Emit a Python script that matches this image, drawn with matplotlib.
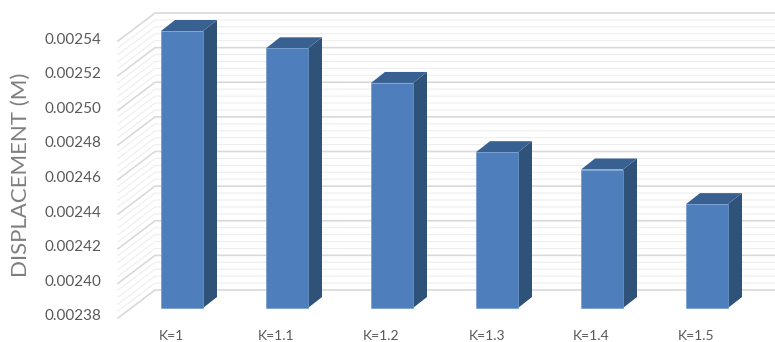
#!/usr/bin/env python3
import numpy as np
import matplotlib
matplotlib.use("Agg")
import matplotlib.pyplot as plt
from matplotlib.transforms import ScaledTranslation

categories = ["K=1", "K=1.1", "K=1.2", "K=1.3", "K=1.4", "K=1.5"]
displacement = [0.00254, 0.00253, 0.00251, 0.00247, 0.00246, 0.00244]
major_ticks = [0.00238, 0.00240, 0.00242, 0.00244, 0.00246, 0.00248, 0.00250, 0.00252, 0.00254]
tick_labels = ["0.00238", "0.00240", "0.00242", "0.00244", "0.00246", "0.00248", "0.00250", "0.00252", "0.00254"]

W, H = 775, 342
PX_X = 105.0  # pixels for one category
PX_Y = 277.0 / 0.00016  # pixels for one unit of displacement
BASE = major_ticks[0]

plt.rcParams["font.family"] = ["Lato", "DejaVu Sans"]

fig = plt.figure(figsize=(W / 100, H / 100), dpi=100)
ax = fig.add_axes([129.5 / W, (H - 308) / H, 630 / W, 277 / H])
ax.set_xlim(-0.5, 5.5)
ax.set_ylim(BASE, major_ticks[-1])

# depth offsets of the fake 3D look
bar_dx, bar_dy = 14 / PX_X, 11 / PX_Y
wall_front_x, wall_back_x = (118 - 182) / PX_X, (155 - 182) / PX_X
wall_right_x = (775 - 182) / PX_X
wall_front_dy, wall_back_dy = -10 / PX_Y, 18 / PX_Y


def grid_line(v, color, lw):
    ax.plot([wall_front_x, wall_back_x, wall_right_x],
            [v + wall_front_dy, v + wall_back_dy, v + wall_back_dy],
            color=color, lw=lw, clip_on=False, zorder=1 if lw < 1 else 2)


for low, high in zip(major_ticks[:-1], major_ticks[1:]):
    for v in np.linspace(low, high, 6)[1:-1]:
        grid_line(v, "#eeeeee", 0.8)
for v in major_ticks:
    grid_line(v, "#d9d9d9", 1.2)

x = np.arange(len(categories))
width = 0.4
ax.bar(x, np.array(displacement) - BASE, width, bottom=BASE, color="#4e7fbc",
       edgecolor="#6f9bd0", linewidth=0.5, zorder=5, clip_on=False)
for xi, v in zip(x, displacement):
    right = xi + width / 2
    left = xi - width / 2
    ax.fill([right, right + bar_dx, right + bar_dx, right],
            [BASE, BASE + bar_dy, v + bar_dy, v],
            color="#2f5279", lw=0, zorder=4, clip_on=False)
    ax.fill([left, left + bar_dx, right + bar_dx, right],
            [v, v + bar_dy, v + bar_dy, v],
            color="#386192", lw=0, zorder=4, clip_on=False)

ax.set_xticks(x, categories)
ax.set_yticks(major_ticks, tick_labels)
ax.tick_params(axis="y", length=0, pad=20, labelsize=11, labelcolor="#595959")
ax.tick_params(axis="x", length=0, pad=15.5, labelsize=10, labelcolor="#595959")
for spine in ax.spines.values():
    spine.set_visible(False)

# labels sit lower than the front plane, x labels a bit left of the bars
y_shift = ScaledTranslation(0, -7 / 100, fig.dpi_scale_trans)
for label in ax.get_yticklabels():
    label.set_transform(label.get_transform() + y_shift)
x_shift = ScaledTranslation(-10.5 / 100, 0, fig.dpi_scale_trans)
for label in ax.get_xticklabels():
    label.set_transform(label.get_transform() + x_shift)

fig.text(21 / W, 1 - 175 / H, "DISPLACEMENT (M)", rotation=90, ha="center", va="center",
         fontsize=16, color="#7f7f7f")

fig.savefig("out.png", dpi=100)
